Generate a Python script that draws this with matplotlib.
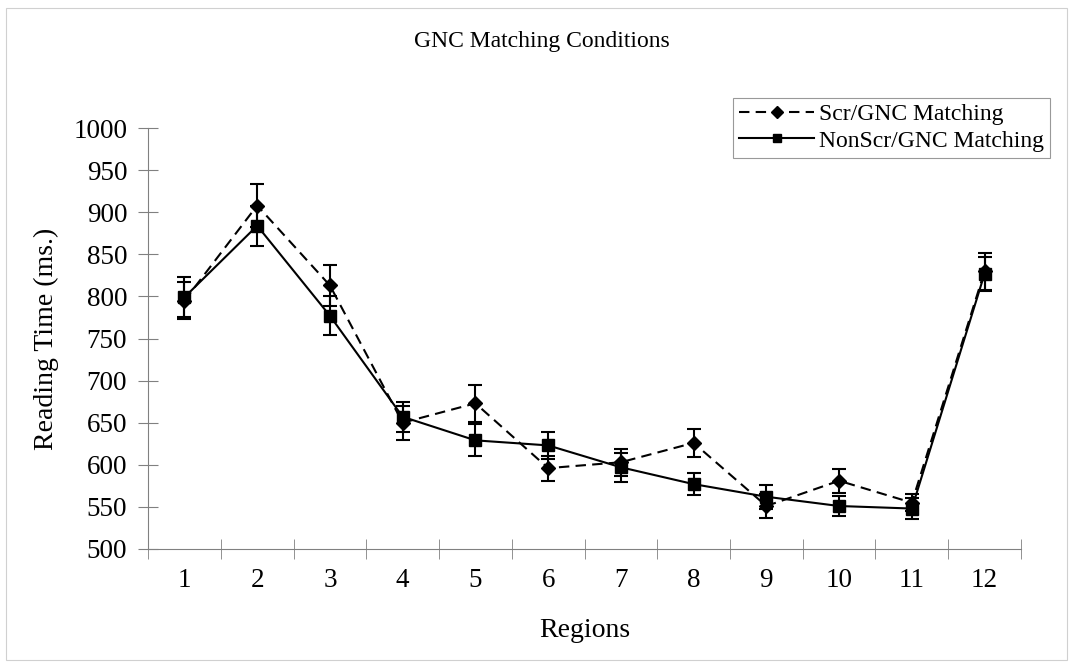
import numpy as np
import matplotlib
matplotlib.use("Agg")
import matplotlib.pyplot as plt
from matplotlib.patches import Rectangle

plt.rcParams['font.family'] = ['Liberation Serif', 'DejaVu Serif']

# Data
regions = [1, 2, 3, 4, 5, 6, 7, 8, 9, 10, 11, 12]
scr_mean = [795, 908, 813, 650, 673, 596, 603, 626, 551, 581, 555, 830]
scr_err = [22, 25, 24, 20, 22, 15, 16, 17, 14, 14, 10, 22]
nonscr_mean = [799, 884, 777, 657, 629, 623, 597, 577, 562, 551, 548, 827]
nonscr_err = [24, 24, 23, 18, 19, 16, 17, 13, 14, 12, 12, 20]

fig = plt.figure(figsize=(10.73, 6.67), dpi=100)
ax = fig.add_axes([0.138, 0.177, 0.8135, 0.631])

# outer frame of the figure
fig.patches.append(Rectangle((0.006, 0.011), 0.988, 0.977, transform=fig.transFigure,
                             fill=False, edgecolor='#d0d0d0', linewidth=0.8))

# error bars (kept out of the legend)
ax.errorbar(regions, scr_mean, yerr=scr_err, fmt='none', ecolor='black',
            elinewidth=1.5, capsize=5, capthick=1.5)
ax.errorbar(regions, nonscr_mean, yerr=nonscr_err, fmt='none', ecolor='black',
            elinewidth=1.5, capsize=5, capthick=1.5)

ax.plot(regions, scr_mean, color='black', linestyle=(0, (5, 3)), linewidth=1.5,
        marker='D', markersize=7, label='Scr/GNC Matching')
ax.plot(regions, nonscr_mean, color='black', linestyle='-', linewidth=1.5,
        marker='s', markersize=8, label='NonScr/GNC Matching')

ax.set_xlim(0.5, 12.5)
ax.set_ylim(500, 1000)
ax.set_yticks(np.arange(500, 1001, 50))
ax.set_xticks(regions)
ax.set_xticks(np.arange(0.5, 12.6, 1), minor=True)
ax.tick_params(axis='x', which='major', length=0, labelsize=19.5, pad=14)
ax.tick_params(axis='x', which='minor', direction='inout', length=14, color='#808080')
ax.tick_params(axis='y', direction='inout', length=14, color='#808080', labelsize=19.5, pad=8)

for s in ['top', 'right']:
    ax.spines[s].set_visible(False)
for s in ['left', 'bottom']:
    ax.spines[s].set_color('#808080')

ax.set_xlabel('Regions', fontsize=20, labelpad=18)
ax.set_ylabel('Reading Time (ms.)', fontsize=20, labelpad=10)
fig.text(0.505, 0.938, 'GNC Matching Conditions', ha='center', va='center', fontsize=17)

leg = ax.legend(loc='upper right', bbox_to_anchor=(1050 / 1073, 1 - 98 / 667),
                bbox_transform=fig.transFigure, fontsize=17,
                frameon=True, fancybox=False, edgecolor='#808080', handlelength=3.2,
                borderpad=0.25, labelspacing=0.2, handletextpad=0.2, borderaxespad=0)
leg.get_frame().set_linewidth(0.8)
for h in leg.legend_handles:
    h.set_markersize(6)

fig.savefig('out.png', dpi=100)
